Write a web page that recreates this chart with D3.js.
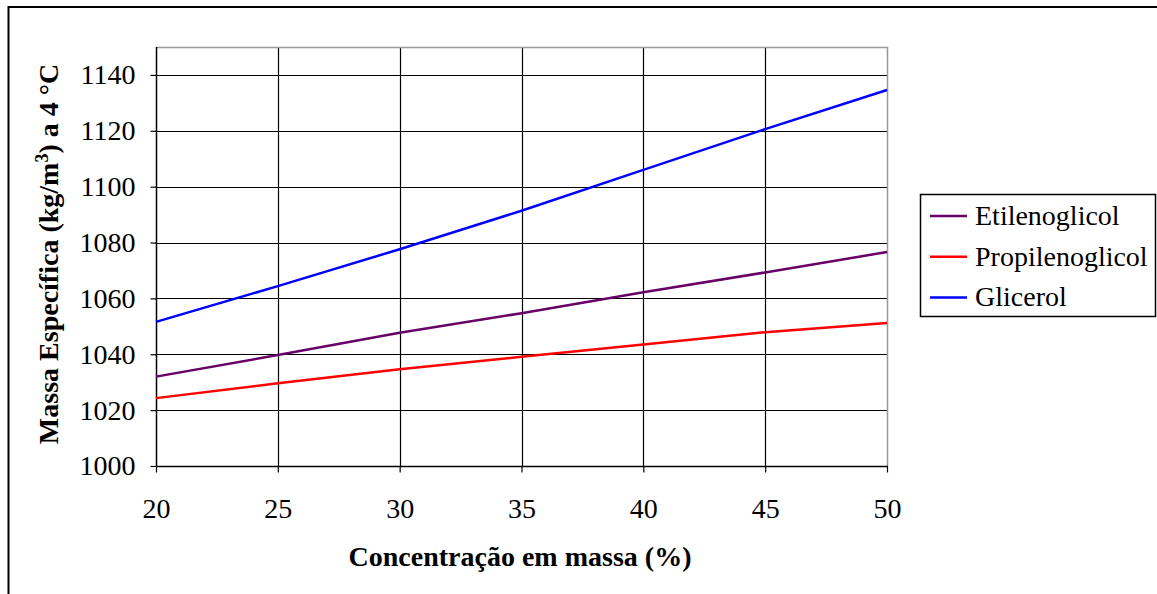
<!DOCTYPE html>
<html>
<head>
<meta charset="utf-8">
<script src="https://cdn.jsdelivr.net/npm/d3@7"></script>
<style>
  html, body { margin: 0; padding: 0; background: #fff; }
  svg { display: block; }
</style>
</head>
<body>
<svg id="chart" width="1157" height="594"></svg>
<script>
const concentrations = [20, 25, 30, 35, 40, 45, 50];
const etilenoglicol = [1032.0, 1039.7, 1047.7, 1054.7, 1062.2, 1069.3, 1076.6];
const propilenoglicol = [1024.3, 1029.6, 1034.6, 1039.1, 1043.5, 1047.9, 1051.2];
const glicerol = [1051.6, 1064.4, 1077.6, 1091.4, 1106.0, 1120.6, 1134.6];
const seriesNames = ["Etilenoglicol", "Propilenoglicol", "Glicerol"];
const seriesColors = ["#660066", "#ff0000", "#0000ff"];
const xTicks = [20, 25, 30, 35, 40, 45, 50];
const yTicks = [1000, 1020, 1040, 1060, 1080, 1100, 1120, 1140];

const seriesData = [etilenoglicol, propilenoglicol, glicerol];

(function () {
const FONT = "Liberation Serif";
const FS = 28;
const svg = d3.select("#chart");

// outer frame
svg.append("path")
  .attr("d", "M8.5,594 L8.5,7 L1157,7")
  .attr("fill", "none").attr("stroke", "#000").attr("stroke-width", 2);

const pL = 156, pR = 887, pT = 47, pB = 466;
const x = d3.scaleLinear().domain([20, 50]).range([pL, pR]);
const y = d3.scaleLinear().domain([1000, 1150]).range([pB, pT]);

// gridlines
const g = svg.append("g");
g.selectAll(".hgrid").data(yTicks).join("line")
  .attr("x1", pL).attr("x2", pR)
  .attr("y1", d => Math.round(y(d)) + 0.5).attr("y2", d => Math.round(y(d)) + 0.5)
  .attr("stroke", "#000").attr("stroke-width", 1.2);
g.selectAll(".vgrid").data(xTicks.slice(1, -1)).join("line")
  .attr("x1", d => Math.round(x(d)) + 0.5).attr("x2", d => Math.round(x(d)) + 0.5)
  .attr("y1", pT).attr("y2", pB)
  .attr("stroke", "#000").attr("stroke-width", 1.2);

// plot border top/right gray
svg.append("path")
  .attr("d", `M${pL},${pT + 0.5} L${pR + 0.5},${pT + 0.5} L${pR + 0.5},${pB}`)
  .attr("fill", "none").attr("stroke", "#999").attr("stroke-width", 1.5);

// axes
const xAxis = svg.append("g").attr("transform", `translate(0,${pB + 0.5})`)
  .call(d3.axisBottom(x).tickValues(xTicks).tickFormat(d3.format("d"))
    .tickSize(6).tickPadding(26).tickSizeOuter(0));
const yAxis = svg.append("g").attr("transform", `translate(${pL + 0.5},0)`)
  .call(d3.axisLeft(y).tickValues(yTicks).tickFormat(d3.format("d"))
    .tickSize(6).tickPadding(15).tickSizeOuter(0));
[xAxis, yAxis].forEach(a => {
  a.attr("font-family", null).attr("font-size", null);
  a.select(".domain").attr("stroke", "#000").attr("stroke-width", 1.5);
  a.selectAll(".tick line").attr("stroke", "#000").attr("stroke-width", 1.2);
  a.selectAll("text").attr("fill", "#000")
    .attr("font-family", FONT).attr("font-size", FS);
});
xAxis.select(".domain").attr("d", `M${pL},0H${pR + 1}`);
yAxis.select(".domain").attr("d", `M0,${pB}V${pT}`);

// lines
const line = d3.line().x((d, i) => x(concentrations[i])).y(d => y(d));
svg.selectAll(".series").data(seriesData).join("path")
  .attr("d", d => line(d))
  .attr("fill", "none")
  .attr("stroke", (d, i) => seriesColors[i])
  .attr("stroke-width", 2.5);

// axis titles
svg.append("text")
  .attr("x", 520).attr("y", 566)
  .attr("text-anchor", "middle")
  .attr("font-family", FONT)
  .attr("font-size", FS).attr("font-weight", "bold")
  .text("Concentração em massa (%)");

const yt = svg.append("text")
  .attr("transform", "translate(58,254) rotate(-90)")
  .attr("text-anchor", "middle")
  .attr("font-family", FONT)
  .attr("font-size", FS).attr("font-weight", "bold");
yt.append("tspan").attr("font-family", FONT).text("Massa Específica (kg/m");
yt.append("tspan").attr("font-family", FONT).attr("font-size", 18).attr("dy", -10).text("3");
yt.append("tspan").attr("font-family", FONT).attr("dy", 10).text(") a 4 °C");

// legend
const lg = svg.append("g");
lg.append("rect")
  .attr("x", 920.5).attr("y", 194.5).attr("width", 235).attr("height", 122)
  .attr("fill", "#fff").attr("stroke", "#000").attr("stroke-width", 1.5);
seriesNames.forEach((name, i) => {
  const cy = 216 + i * 40.7;
  lg.append("line").attr("x1", 930).attr("x2", 967).attr("y1", cy).attr("y2", cy)
    .attr("stroke", seriesColors[i]).attr("stroke-width", 2.5);
  lg.append("text").attr("x", 975).attr("y", cy + 9)
    .attr("font-family", FONT).attr("font-size", FS).text(name);
});
})();
</script>
</body>
</html>
